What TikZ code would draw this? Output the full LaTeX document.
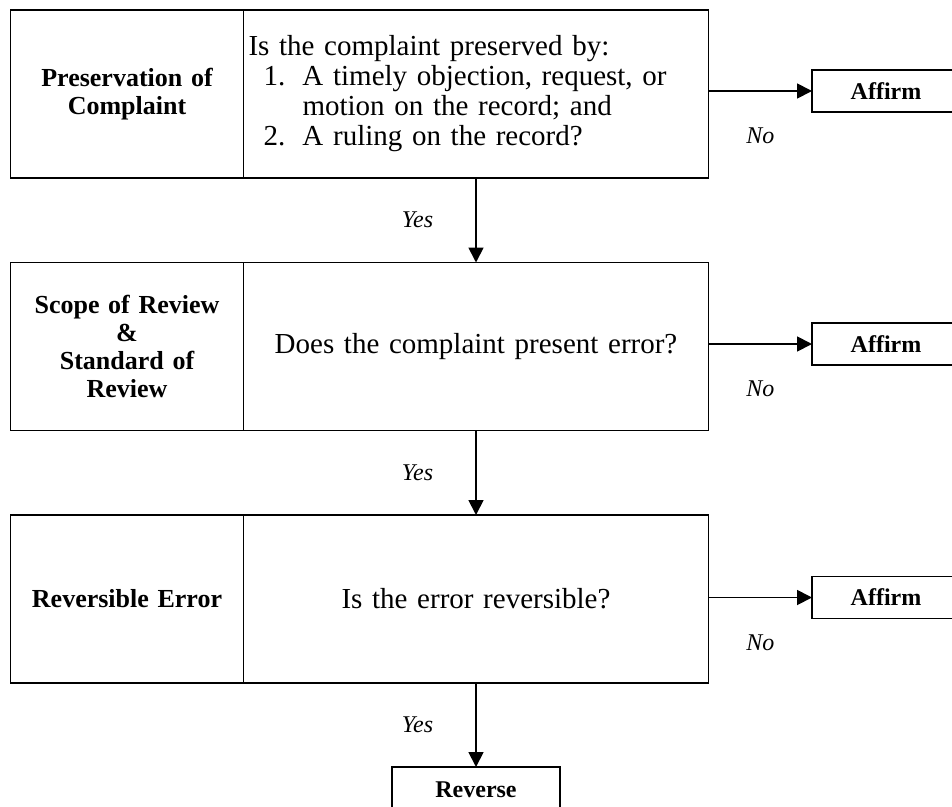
\documentclass[tikz,border=0pt]{standalone}
\usepackage{fontspec}
\setmainfont{Liberation Serif}
\usetikzlibrary{positioning, arrows.meta}
\tikzset{
  cell/.style={draw, line width=1.8pt, outer sep=0pt, inner xsep=5pt, inner ysep=0pt,
               minimum height=168pt},
  head/.style={cell, minimum width=233pt, text width=223pt, align=center,
               font=\bfseries\fontsize{26}{28}\selectfont},
  ask/.style={cell, minimum width=465pt, text width=455pt, align=#1,
              font=\fontsize{29}{30}\selectfont},
  ask/.default=center,
  res/.style={draw, line width=1.8pt, outer sep=0pt, minimum height=42pt,
              font=\bfseries\fontsize{24}{26}\selectfont},
  arr/.style={-{Triangle[length=15pt, width=15pt]}, line width=1.8pt},
  yn/.style={font=\itshape\fontsize{24}{26}\selectfont, inner sep=2pt},
}

\begin{document}
\begin{tikzpicture}[x=1pt, y=-1pt]
        \useasboundingbox (0,0) rectangle (952,806);
        \clip (0,0) rectangle (952,806);
        % three stages
        \node[head] (h1) at (127,94) {Preservation of\\Complaint};
        \node[ask=left, right=0pt of h1] (q1) {Is the complaint preserved by:\\
          \hspace*{15pt}\makebox[39pt][l]{1.}A timely objection, request, or\\
          \hspace*{54pt}motion on the record; and\\
          \hspace*{15pt}\makebox[39pt][l]{2.}A ruling on the record?};
        \node[head] (h2) at (127,346.5) {Scope of Review\\\&\\Standard of\\Review};
        \node[ask, right=0pt of h2] (q2) {Does the complaint present error?};
        \node[head] (h3) at (127,599) {Reversible Error};
        \node[ask, right=0pt of h3] (q3) {Is the error reversible?};
        % outcomes
        \node[res, minimum width=148pt] (a1) at (886,91) {Affirm};
        \node[res, minimum width=148pt] (a2) at (886,344) {Affirm};
        \node[res, minimum width=148pt] (a3) at (886,597.5) {Affirm};
        \node[res, minimum width=168pt, minimum height=46pt] (rev) at (476,790) {Reverse};
        % yes
        \draw[arr] (q1) -- node[yn, left=40pt] {Yes} (q2);
        \draw[arr] (q2) -- node[yn, left=40pt] {Yes} (q3);
        \draw[arr] (q3) -- node[yn, left=40pt] {Yes} (rev);
        % no
        \draw[arr] (q1.east |- a1.west) -- node[yn, below=34pt] {No} (a1);
        \draw[arr] (q2.east |- a2.west) -- node[yn, below=34pt] {No} (a2);
        \draw[arr] (q3.east |- a3.west) -- node[yn, below=34pt] {No} (a3);
      \end{tikzpicture}
\end{document}
